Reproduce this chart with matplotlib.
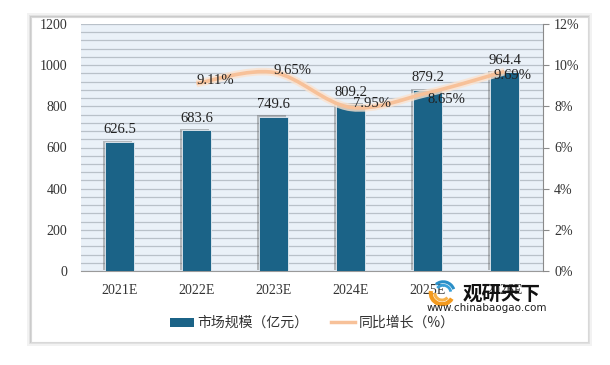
import matplotlib
matplotlib.use("Agg")
import matplotlib.pyplot as plt
from matplotlib.patches import Patch, Rectangle, PathPatch, Arc
from matplotlib.lines import Line2D
from matplotlib.path import Path
import matplotlib.patheffects as pe

years = ["2021E", "2022E", "2023E", "2024E", "2025E", "2026E"]
market = [626.5, 683.6, 749.6, 809.2, 879.2, 964.4]
growth = [None, 9.11, 9.65, 7.95, 8.65, 9.69]
bar_label = "市场规模（亿元）"
line_label = "同比增长（%）"

BAR_COLOR = "#1b6387"
LINE_COLOR = "#f7c199"
GRID_COLOR = "#b9c1c9"
BG_COLOR = "#eaf1f8"
NUM_FONT = "Liberation Serif"
CJK_FONT = ["Noto Sans CJK SC", "DejaVu Sans"]

fig = plt.figure(figsize=(6.1, 3.65), dpi=100)

# white panel with soft grey shadow
px0, py0, px1, py1 = 31 / 610, 1 - 342 / 365, 588 / 610, 1 - 17 / 365
for i, a in enumerate([0.10, 0.14, 0.22]):
    g = (3 - i) * 1.2
    fig.patches.append(Rectangle((px0 - g / 610, py0 - g / 365), (px1 - px0) + 2 * g / 610,
                                 (py1 - py0) + 2 * g / 365, transform=fig.transFigure,
                                 facecolor="#808080", alpha=a, edgecolor="none", zorder=-2))
fig.patches.append(Rectangle((px0, py0), px1 - px0, py1 - py0, transform=fig.transFigure,
                             facecolor="white", edgecolor="#d8d8d8", lw=0.8, zorder=-1))

ax = fig.add_axes([81 / 610, 1 - 271 / 365, (543 - 81) / 610, (271 - 24) / 365])
ax.set_facecolor(BG_COLOR)

x = list(range(len(years)))
bars = ax.bar(x, market, width=0.38, color=BAR_COLOR, edgecolor="#e8eef4", lw=0.6, zorder=3)
for b in bars:
    b.set_path_effects([pe.SimplePatchShadow(offset=(-1.6, 1.0), shadow_rgbFace="#606060", alpha=0.4),
                        pe.Normal()])

for xi, v in zip(x, market):
    ax.annotate(f"{v:.1f}", (xi, v), xytext=(0, 4), textcoords="offset points",
                ha="center", va="bottom", fontsize=10.5, family=NUM_FONT, color="#222222", zorder=5)

ax.set_ylim(0, 1200)
ax.set_xlim(-0.5, len(years) - 0.5)
ax.set_yticks(range(0, 1201, 200))
ax.set_yticks(range(0, 1201, 40), minor=True)
ax.yaxis.grid(True, which="both", color=GRID_COLOR, lw=0.9, zorder=2)
ax.set_axisbelow(True)
ax.set_xticks(x)
ax.set_xticklabels(years)
ax.tick_params(axis="both", which="both", length=0, labelsize=10, colors="#333333")
ax.tick_params(axis="x", pad=9)
ax.tick_params(axis="y", pad=10)
for lab in ax.get_xticklabels() + ax.get_yticklabels():
    lab.set_family(NUM_FONT)
for s in ["top", "left", "right"]:
    ax.spines[s].set_visible(False)
ax.spines["bottom"].set_color("#9a9a9a")

ax2 = ax.twinx()
ax2.set_ylim(0, 12)
ax2.set_yticks(range(0, 13, 2))
ax2.set_yticklabels([f"{t}%" for t in range(0, 13, 2)])
ax2.tick_params(axis="y", length=4, color="#8a8a8a", labelsize=10, colors="#333333", pad=4)
for lab in ax2.get_yticklabels():
    lab.set_family(NUM_FONT)
for s in ["top", "left", "bottom"]:
    ax2.spines[s].set_visible(False)
ax2.spines["right"].set_color("#8a8a8a")

# smooth curve through growth points (bezier, catmull-rom style control points)
pts = [(xi, g) for xi, g in zip(x, growth) if g is not None]
verts = [pts[0]]
codes = [Path.MOVETO]
for i in range(len(pts) - 1):
    p0 = pts[max(i - 1, 0)]
    p1 = pts[i]
    p2 = pts[i + 1]
    p3 = pts[min(i + 2, len(pts) - 1)]
    c1 = (p1[0] + (p2[0] - p0[0]) / 6, p1[1] + (p2[1] - p0[1]) / 6)
    c2 = (p2[0] - (p3[0] - p1[0]) / 6, p2[1] - (p3[1] - p1[1]) / 6)
    verts += [c1, c2, p2]
    codes += [Path.CURVE4] * 3
curve = Path(verts, codes)
ax2.add_patch(PathPatch(curve, facecolor="none", edgecolor="#fbe3cf", lw=5.5, alpha=0.8, zorder=4))
ax2.add_patch(PathPatch(curve, facecolor="none", edgecolor=LINE_COLOR, lw=2.6, zorder=5))

label_offsets = {1: (0, 2), 2: (0, 1), 3: (2, 3), 4: (0, -5), 5: (-8, -3)}
for xi, g in zip(x, growth):
    if g is None:
        continue
    dx, dy = label_offsets[xi]
    ax2.annotate(f"{g:.2f}%", (xi, g), xytext=(dx, dy), textcoords="offset points",
                 ha="left", va="center", fontsize=10.5, family=NUM_FONT, color="#222222", zorder=6)

handles = [Patch(facecolor=BAR_COLOR, edgecolor="none"),
           Line2D([0], [0], color=LINE_COLOR, lw=2.5)]
leg = fig.legend(handles, [bar_label, line_label], loc="center", ncol=2,
                 bbox_to_anchor=(0.512, 1 - 323 / 365), frameon=False,
                 prop={"family": CJK_FONT, "size": 10}, handlelength=1.7,
                 handleheight=0.6, columnspacing=1.6, handletextpad=0.3)
for t in leg.get_texts():
    t.set_color("#333333")

# watermark: small swirl logo + name
logo = fig.add_axes([427 / 610, 1 - 306 / 365, 30 / 610, 26 / 365])
logo.set_xlim(-1.2, 1.2)
logo.set_ylim(-1.1, 1.1)
logo.set_aspect("equal")
logo.axis("off")
logo.add_patch(Arc((0.1, 0.0), 1.9, 1.9, theta1=20, theta2=130, color="#2a8fc8", lw=2.2))
logo.add_patch(Arc((0.1, 0.0), 1.3, 1.3, theta1=10, theta2=140, color="#3aa0d8", lw=2.0))
logo.add_patch(Arc((0.0, 0.0), 1.9, 1.9, theta1=170, theta2=330, color="#f39a1e", lw=3.0))
logo.add_patch(Arc((0.0, 0.0), 1.2, 1.2, theta1=180, theta2=320, color="#f7b24a", lw=2.2))

fig.text(502 / 610, 1 - 294 / 365, "观研天下", family=CJK_FONT, fontsize=14, fontweight="bold",
         ha="center", va="center", color="#111111", zorder=10)
fig.text(487 / 610, 1 - 308 / 365, "www.chinabaogao.com", family="DejaVu Sans", fontsize=7.5,
         ha="center", va="center", color="#222222", zorder=10)

fig.savefig("out.png", dpi=100)
